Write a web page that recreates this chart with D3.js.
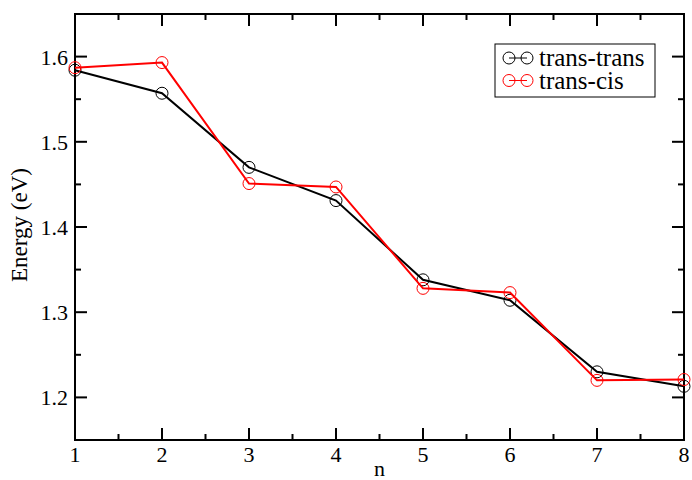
<!DOCTYPE html>
<html>
<head>
<meta charset="utf-8">
<script src="https://cdn.jsdelivr.net/npm/d3@7"></script>
<style>
  body { margin: 0; background: white; }
</style>
</head>
<body>
<svg id="chart" width="692" height="480" font-family="'Liberation Serif', 'Times New Roman', Times, serif"></svg>
<script>
const nValues = [1, 2, 3, 4, 5, 6, 7, 8];
const transTrans = [1.584, 1.557, 1.470, 1.431, 1.338, 1.314, 1.230, 1.213];
const transCis = [1.587, 1.593, 1.451, 1.447, 1.328, 1.323, 1.220, 1.221];
const xTicks = [1, 2, 3, 4, 5, 6, 7, 8];
const yTicks = [1.2, 1.3, 1.4, 1.5, 1.6];

const series = [
  { name: "trans-trans", values: transTrans, color: "black" },
  { name: "trans-cis", values: transCis, color: "red" },
];

const svg = d3.select("#chart");
const plotL = 75, plotR = 684, plotT = 14, plotB = 440;

const x = d3.scaleLinear().domain([1, 8]).range([plotL, plotR]);
const y = d3.scaleLinear().domain([1.15, 1.65]).range([plotB, plotT]);

const minorX = d3.range(1.5, 8, 1);
const minorY = d3.range(1.15, 1.66, 0.05).filter(v => !yTicks.some(t => Math.abs(t - v) < 1e-6));

// Frame
svg.append("rect")
  .attr("x", plotL).attr("y", plotT)
  .attr("width", plotR - plotL).attr("height", plotB - plotT)
  .attr("fill", "none").attr("stroke", "black").attr("stroke-width", 2);

const ticks = svg.append("g").attr("stroke", "black").attr("stroke-width", 2);

// x ticks, bottom and top, pointing inward
xTicks.forEach(v => {
  ticks.append("line").attr("x1", x(v)).attr("x2", x(v)).attr("y1", plotB).attr("y2", plotB - 12);
  ticks.append("line").attr("x1", x(v)).attr("x2", x(v)).attr("y1", plotT).attr("y2", plotT + 12);
});
minorX.forEach(v => {
  ticks.append("line").attr("x1", x(v)).attr("x2", x(v)).attr("y1", plotB).attr("y2", plotB - 6);
  ticks.append("line").attr("x1", x(v)).attr("x2", x(v)).attr("y1", plotT).attr("y2", plotT + 6);
});
// y ticks, left and right
yTicks.forEach(v => {
  ticks.append("line").attr("x1", plotL).attr("x2", plotL + 12).attr("y1", y(v)).attr("y2", y(v));
  ticks.append("line").attr("x1", plotR).attr("x2", plotR - 12).attr("y1", y(v)).attr("y2", y(v));
});
minorY.forEach(v => {
  ticks.append("line").attr("x1", plotL).attr("x2", plotL + 6).attr("y1", y(v)).attr("y2", y(v));
  ticks.append("line").attr("x1", plotR).attr("x2", plotR - 6).attr("y1", y(v)).attr("y2", y(v));
});

// Tick labels
svg.append("g").selectAll("text").data(xTicks).join("text")
  .attr("x", d => x(d)).attr("y", 462)
  .attr("text-anchor", "middle").attr("font-size", 22)
  .text(d => d);

svg.append("g").selectAll("text").data(yTicks).join("text")
  .attr("x", plotL - 7).attr("y", d => y(d) + 8)
  .attr("text-anchor", "end").attr("font-size", 22)
  .text(d => d.toFixed(1));

// Axis labels
svg.append("text")
  .attr("x", (plotL + plotR) / 2).attr("y", 476)
  .attr("text-anchor", "middle").attr("font-size", 22)
  .text("n");

svg.append("text")
  .attr("transform", `translate(27, 225) rotate(-90)`)
  .attr("text-anchor", "middle").attr("font-size", 23)
  .text("Energy (eV)");

// Series
const line = d3.line().x((d, i) => x(nValues[i])).y(d => y(d));

series.forEach(s => {
  svg.append("path")
    .attr("d", line(s.values))
    .attr("fill", "none").attr("stroke", s.color).attr("stroke-width", 2);
  svg.append("g").selectAll("circle").data(s.values).join("circle")
    .attr("cx", (d, i) => x(nValues[i])).attr("cy", d => y(d))
    .attr("r", 6).attr("fill", "none")
    .attr("stroke", s.color).attr("stroke-width", 1);
});

// Legend
const legend = svg.append("g");
legend.append("rect")
  .attr("x", 495).attr("y", 44).attr("width", 160).attr("height", 53)
  .attr("fill", "white").attr("stroke", "black").attr("stroke-width", 1);

series.forEach((s, i) => {
  const ly = 58 + i * 22.5;
  legend.append("line")
    .attr("x1", 509).attr("x2", 527).attr("y1", ly).attr("y2", ly)
    .attr("stroke", s.color).attr("stroke-width", 1);
  [509, 527].forEach(cx => {
    legend.append("circle")
      .attr("cx", cx).attr("cy", ly).attr("r", 6)
      .attr("fill", "none").attr("stroke", s.color).attr("stroke-width", 1);
  });
  legend.append("text")
    .attr("x", 539).attr("y", ly + 8)
    .attr("font-size", 25)
    .text(s.name);
});
</script>
</body>
</html>
